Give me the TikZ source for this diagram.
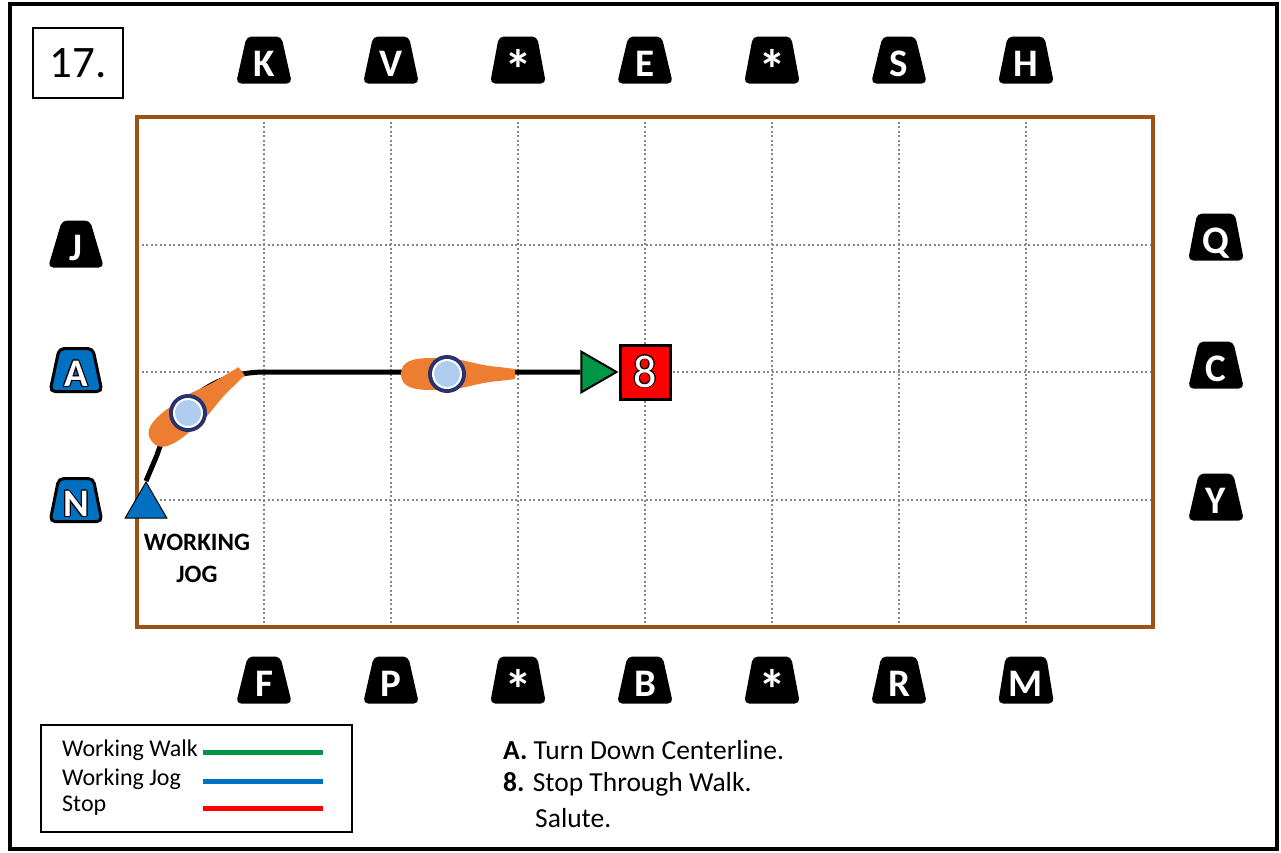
\documentclass[tikz,border=0pt]{standalone}
\usepackage{fontspec}
\setmainfont{Carlito}
\usepackage[copies]{contour}
\usetikzlibrary{shapes.geometric,positioning}

\definecolor{arenabrown}{RGB}{156,82,20}
\definecolor{walkgreen}{RGB}{0,150,70}
\definecolor{jogblue}{RGB}{0,112,192}
\definecolor{horseorange}{RGB}{237,125,49}
\definecolor{ridernavy}{RGB}{40,50,110}
\definecolor{riderblue}{RGB}{175,205,238}
\definecolor{gridgray}{RGB}{135,135,135}

\newcommand{\markstar}{\raisebox{-13pt}{\fontsize{56}{56}\selectfont *}}

\tikzset{
  horse/.pic={
    \fill[horseorange] (-46,0) .. controls (-46,-13) and (-34,-16) .. (-15,-16)
      -- (14,-14) .. controls (28,-11) and (38,-8) .. (52,-7) -- (68,-5)
      -- (68,5) -- (52,7) .. controls (38,8) and (28,11) .. (14,14)
      -- (-15,16) .. controls (-34,16) and (-46,13) .. (-46,0) -- cycle;
    \fill[ridernavy] (0,0) circle (19);
    \fill[white] (0,0) circle (15);
    \fill[riderblue] (0,0) circle (13);
  }
}

\begin{document}
\begin{tikzpicture}[x=1pt,y=-1pt,
    letterbox/.style={trapezium, trapezium left angle=79, trapezium right angle=79,
      trapezium stretches=true, minimum width=56pt, minimum height=47pt, inner sep=0pt,
      rounded corners=5pt, fill=black, text=white, text height=33pt, text depth=0pt,
      font=\fontsize{39}{39}\selectfont\bfseries},
    bluebox/.style={letterbox, fill=jogblue, draw=black, line width=3pt,
      minimum width=52pt, minimum height=43pt},
    gridline/.style={gridgray, line width=2pt, dash pattern=on 2pt off 2.5pt},
    jogmark/.style={regular polygon, regular polygon sides=3, fill=jogblue, draw=black,
      line width=1pt, minimum size=48pt, inner sep=0pt},
    walkmark/.style={regular polygon, regular polygon sides=3, shape border rotate=-90,
      fill=walkgreen, draw=black, line width=2pt, minimum size=47pt, inner sep=0pt},
    stopbox/.style={rectangle, fill=red, draw=black, line width=3pt, minimum width=50pt,
      minimum height=54pt, inner sep=0pt, text=white, font=\fontsize{46}{46}\selectfont},
    route/.style={line width=5pt, black},
    legendtext/.style={anchor=west, inner sep=0pt, font=\fontsize{24}{24}\selectfont},
    legendline/.style={line width=5pt},
    notetext/.style={anchor=west, inner sep=0pt, font=\fontsize{27.5}{27.5}\selectfont}]
  \useasboundingbox (0,0) rectangle (1281,852);

  % frame and test number
  \draw[line width=4pt] (10,4) rectangle (1277,849);
  \node[draw, line width=2pt, minimum width=90pt, minimum height=70pt,
    font=\fontsize{45}{45}\selectfont] (num) at (78,63) {17.};

  % arena
  \foreach \x in {264,391,...,1026}
    \draw[gridline] (\x,117) -- (\x,627);
  \foreach \y in {244.5,372,499.5}
    \draw[gridline] (137,\y) -- (1153,\y);
  \draw[arenabrown, line width=4pt] (137,117) rectangle (1153,627);

  % letters
  \foreach \x/\lbl [count=\i] in {264/K,391/V,518/\markstar,645/E,772/\markstar,899/S,1026/H}
    \node[letterbox] (t_\i) at (\x,60) {\lbl};
  \foreach \x/\lbl [count=\i] in {264/F,391/P,518/\markstar,645/B,772/\markstar,899/R,1026/M}
    \node[letterbox] (b_\i) at (\x,680) {\lbl};
  \node[letterbox] (m_J) at (76,244) {J};
  \node[bluebox] (m_A) at (76,370) {\contourlength{1pt}\contour{black}{A}};
  \node[bluebox] (m_N) at (76,500) {\contourlength{1pt}\contour{black}{N}};
  \node[letterbox] (m_Q) at (1216,237) {Q};
  \node[letterbox] (m_C) at (1216,365) {C};
  \node[letterbox] (m_Y) at (1216,497) {Y};

  % pattern
  \node[jogmark] (start) at (146,506) {};
  \node[stopbox] (stop8) at (645,372) {\contourlength{0.8pt}\contour{black}{8}};
  \node[walkmark, left=0pt of stop8] (walk) {};
  \draw[route] (start.corner 1) -- (157,455) .. controls (175,400) and (215,372) .. (265,372)
    -- (walk.west);
  \pic[rotate=38] at (188,413) {horse};
  \pic at (447,374) {horse};
  \node[align=center, font=\fontsize{25}{32}\selectfont\bfseries] (joglbl) at (197,558)
    {WORKING\\JOG};

  % legend
  \draw[line width=1.5pt] (41,725) rectangle (352,832);
  \node[legendtext] (lwalk) at (62,750) {Working Walk};
  \node[legendtext] (ljog) at (62,779) {Working Jog};
  \node[legendtext] (lstop) at (62,806) {Stop};
  \draw[legendline, walkgreen] (203,752) -- (323,752);
  \draw[legendline, jogblue] (203,781) -- (323,781);
  \draw[legendline, red] (203,808) -- (323,808);

  % notes
  \node[notetext] (noteA) at (503,750) {\textbf{A.} Turn Down Centerline.};
  \node[notetext] (note8) at (503,784) {\textbf{8.} Stop Through Walk.};
  \node[notetext] (salute) at (535,818) {Salute.};
\end{tikzpicture}
\end{document}
